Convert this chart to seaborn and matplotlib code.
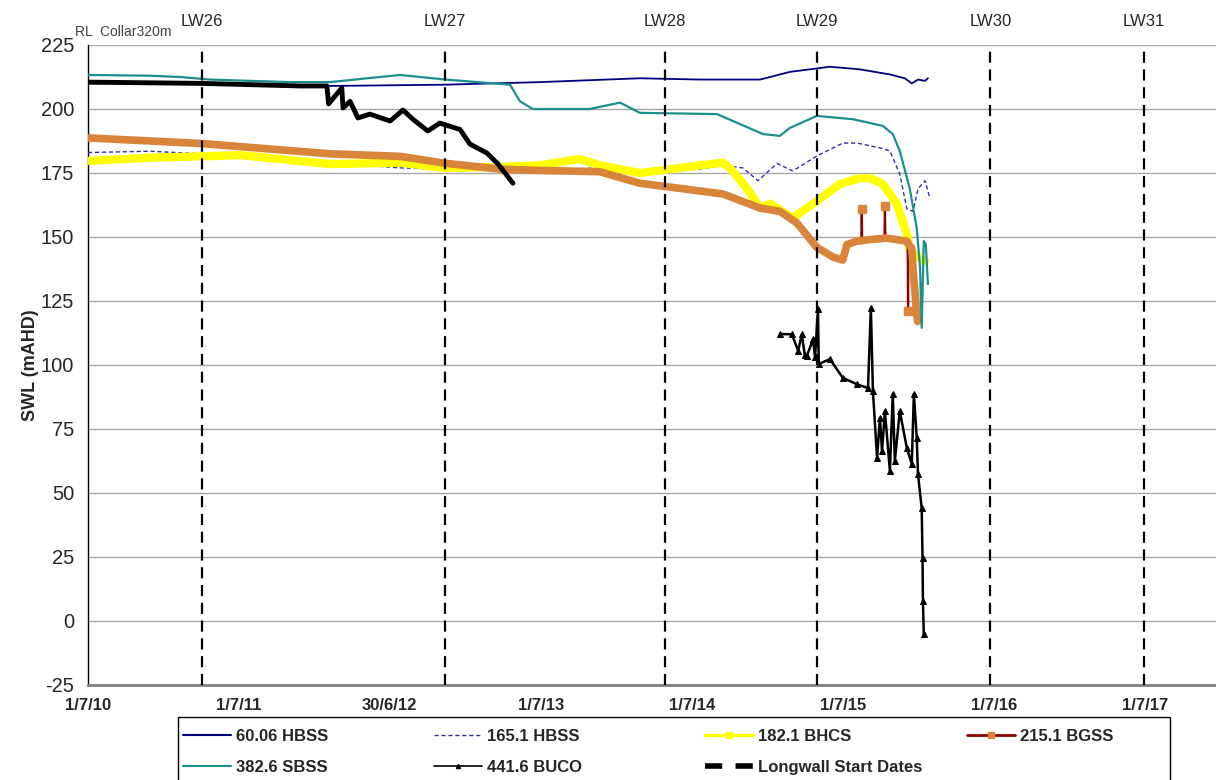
import numpy as np
import pandas as pd
import matplotlib
matplotlib.use("Agg")
import matplotlib.pyplot as plt
import matplotlib.transforms as mtransforms
from matplotlib.lines import Line2D
from matplotlib.patches import Rectangle
import seaborn as sns

# ---- values ----
hbss60_dates = ["2010-07-01", "2011-03-29", "2012-02-06", "2012-11-11", "2013-06-28", "2014-02-25",
                "2014-07-20", "2014-12-13", "2015-02-23", "2015-05-31", "2015-08-11", "2015-10-23",
                "2015-11-28", "2015-12-15", "2015-12-30", "2016-01-16", "2016-01-23"]
hbss60_vals = [210, 210, 209, 209.5, 210.5, 212, 211.5, 211.5, 214.5, 216.5, 215.5, 213.5,
               212, 210, 211.5, 211, 212]

hbss165_dates = ["2010-07-01", "2010-11-28", "2011-04-03", "2011-08-21", "2012-02-06", "2012-07-25",
                 "2012-11-11", "2013-06-28", "2013-11-20", "2014-02-25", "2014-07-20", "2014-09-14",
                 "2014-11-01", "2014-12-08", "2015-01-23", "2015-03-02", "2015-04-29", "2015-07-01",
                 "2015-08-04", "2015-09-29", "2015-10-23", "2015-11-16", "2015-12-03", "2015-12-18",
                 "2015-12-30", "2016-01-16", "2016-01-23", "2016-01-28"]
hbss165_vals = [183, 183.5, 182.5, 182, 179, 177, 176.5, 176, 177, 175.5, 176.5, 178,
                177, 172, 178.7, 175.8, 181.6, 186.7, 186.7, 184.8, 183.6, 174.6, 161, 160,
                168.8, 172, 168, 165]

bhcs_dates = ["2010-07-01", "2010-11-28", "2011-04-03", "2011-07-04", "2012-02-06", "2012-07-25",
              "2012-11-11", "2013-04-17", "2013-06-28", "2013-10-03", "2013-11-20", "2014-02-25",
              "2014-04-15", "2014-07-20", "2014-09-14", "2014-10-01", "2014-11-11", "2014-12-13",
              "2015-01-06", "2015-03-02", "2015-04-29", "2015-06-24", "2015-08-11", "2015-09-05",
              "2015-10-06", "2015-11-09", "2015-12-03", "2015-12-10", "2016-01-04", "2016-01-16"]
bhcs_vals = [179.7, 181, 181.5, 182, 178.5, 179, 177, 177.5, 178, 180.5, 178, 175,
             176, 178, 179, 177, 169, 161.3, 163, 157.4, 164, 170.7, 173, 173,
             170.7, 162.9, 151, 144.5, 141.8, 140.6]

bgss_dates = ["2010-07-01", "2011-04-03", "2012-02-06", "2012-07-25", "2012-11-11", "2013-03-24",
              "2013-06-28", "2013-11-20", "2014-02-25", "2014-06-02", "2014-09-14", "2014-12-13",
              "2015-01-30", "2015-03-12", "2015-04-29", "2015-06-07", "2015-07-01", "2015-07-11",
              "2015-08-04", "2015-08-15", "2015-08-16", "2015-08-17", "2015-09-05", "2015-10-10",
              "2015-10-11", "2015-10-12", "2015-12-03", "2015-12-05", "2015-12-06", "2015-12-07",
              "2015-12-15", "2015-12-18", "2015-12-22", "2015-12-27", "2015-12-29"]
bgss_vals = [188.7, 186.5, 182.5, 181.5, 178.8, 176.5, 176, 175.5, 171, 169, 166.8, 161.3,
             160, 155.5, 146, 142.2, 141, 147, 148.4, 148.5, 161, 148.6, 149, 149.5,
             162, 149.6, 148.4, 148, 121, 147, 145.7, 137.9, 130, 119.7, 117]
bgss_spike_dates = ["2015-08-16", "2015-10-11", "2015-12-06"]

sbss_dates = ["2010-07-01", "2010-11-28", "2011-02-09", "2011-04-22", "2011-11-02", "2012-02-06",
              "2012-07-25", "2012-11-11", "2013-04-17", "2013-05-11", "2013-06-11", "2013-10-27",
              "2014-01-08", "2014-02-25", "2014-08-31", "2014-12-20", "2015-01-30", "2015-02-23",
              "2015-04-29", "2015-07-26", "2015-10-06", "2015-10-30", "2015-11-16", "2015-12-10",
              "2015-12-27", "2016-01-04", "2016-01-08", "2016-01-13", "2016-01-18", "2016-01-23"]
sbss_vals = [213.3, 213, 212.5, 211.5, 210.5, 210.5, 213.3, 211.5, 209.5, 203, 200, 200,
             202.5, 198.5, 198, 190.2, 189.5, 192.6, 197.3, 196, 193.4, 190.2, 183.6, 169,
             153.5, 137.9, 114.5, 148.4, 147, 131.6]

# BUCO logger: two recording periods with a gap between them
buco_a_dates = ["2010-07-01", "2011-04-03", "2011-11-26", "2012-01-30", "2012-02-03", "2012-03-06",
                "2012-03-09", "2012-03-26", "2012-04-14", "2012-05-13", "2012-07-01", "2012-08-01",
                "2012-08-25", "2012-09-30", "2012-10-29", "2012-12-17", "2013-01-10", "2013-02-20",
                "2013-03-19", "2013-04-24"]
buco_a_vals = [210.5, 210, 209, 209, 202, 208.2, 200.4, 203, 196.5, 198, 195.3, 199.6,
               196, 191.4, 194.5, 192, 186.3, 182.8, 178.5, 171]
buco_b_dates = ["2015-01-30", "2015-02-28", "2015-03-15", "2015-03-24", "2015-03-31", "2015-04-05",
                "2015-04-20", "2015-04-25", "2015-05-02", "2015-05-04", "2015-05-31", "2015-07-01",
                "2015-08-04", "2015-08-31", "2015-09-07", "2015-09-12", "2015-09-22", "2015-09-29",
                "2015-10-04", "2015-10-11", "2015-10-23", "2015-10-30", "2015-11-04", "2015-11-16",
                "2015-12-03", "2015-12-15", "2015-12-20", "2015-12-27", "2015-12-30", "2016-01-08",
                "2016-01-10", "2016-01-11", "2016-01-13"]
buco_b_vals = [112.1, 112, 105.5, 112, 104, 103.5, 110, 103, 121.9, 100.4, 102.3, 95,
               92.5, 91, 122.3, 89.8, 63.7, 79.3, 66.4, 82, 58.6, 88.7, 62.5, 82,
               67.6, 61.3, 88.7, 71.5, 57.4, 44, 24.6, 7.8, -5]

longwall_names = ["LW26", "LW27", "LW28", "LW29", "LW30", "LW31"]
longwall_dates = ["2011-04-03", "2012-11-11", "2014-04-26", "2015-04-29", "2016-06-22", "2017-06-29"]

tick_dates = ["2010-07-01", "2011-07-01", "2012-06-30", "2013-07-01", "2014-07-01",
              "2015-07-01", "2016-07-01", "2017-07-01"]
tick_labels = ["1/7/10", "1/7/11", "30/6/12", "1/7/13", "1/7/14", "1/7/15", "1/7/16", "1/7/17"]
y_ticks = list(range(-25, 226, 25))

legend_labels = ["60.06 HBSS", "165.1 HBSS", "182.1 BHCS", "215.1 BGSS",
                 "382.6 SBSS", "441.6 BUCO", "Longwall Start Dates"]

C_NAVY = "#000080"
C_DASH = "#2E2EA8"
C_YELLOW = "#FFFF00"
C_ORANGE = "#D9843B"
C_DARKRED = "#8B0000"
C_TEAL = "#1A8F8F"

sns.set_style("white")
plt.rcParams["font.family"] = ["Liberation Sans", "DejaVu Sans"]

fig = plt.figure(figsize=(12.16, 7.8), dpi=100)
ax = fig.add_axes([88 / 1216, 1 - 685 / 780, 1 - 88 / 1216, 640 / 780])

d = pd.to_datetime

common = dict(ax=ax, estimator=None, sort=False, legend=False)
sns.lineplot(x=d(hbss60_dates), y=hbss60_vals, color=C_NAVY, lw=1.3, zorder=3, **common)
sns.lineplot(x=d(hbss165_dates), y=hbss165_vals, color=C_DASH, lw=1.0,
             linestyle=(0, (3, 2)), zorder=3, **common)
sns.lineplot(x=d(bhcs_dates), y=bhcs_vals, color=C_YELLOW, lw=6, zorder=3, **common)

# BGSS: thin dark-red trace (spikes visible) under a thick orange band of markers
sns.lineplot(x=d(bgss_dates), y=bgss_vals, color=C_DARKRED, lw=1.6, zorder=3, **common)
bgss = pd.DataFrame({"date": d(bgss_dates), "val": bgss_vals})
is_spike = bgss["date"].isin(d(bgss_spike_dates))
sns.lineplot(data=bgss[~is_spike], x="date", y="val", color=C_ORANGE, lw=5.5,
             zorder=3.1, **common)
ax.plot(bgss.loc[is_spike, "date"], bgss.loc[is_spike, "val"], ls="none", marker="s",
        ms=6, color=C_ORANGE, zorder=3.2)

sns.lineplot(x=d(sbss_dates), y=sbss_vals, color=C_TEAL, lw=1.6, zorder=3.3, **common)

sns.lineplot(x=d(buco_a_dates), y=buco_a_vals, color="black", lw=3.5, zorder=3.4, **common)
sns.lineplot(x=d(buco_b_dates), y=buco_b_vals, color="black", lw=1.8, marker="^", ms=4,
             mec="black", mfc="black", zorder=3.4, **common)

# longwall start dates
trans = mtransforms.blended_transform_factory(ax.transData, ax.transAxes)
for name, dt in zip(longwall_names, d(longwall_dates)):
    ax.axvline(dt, color="black", lw=1.6, linestyle=(0, (5, 3)), zorder=5)
    ax.text(dt, 1.036, name, transform=trans, ha="center", va="center", fontsize=12)

ax.set_xlim(d("2010-07-01"), d("2017-12-20"))
ax.set_ylim(-25, 225)
ax.set_xticks(d(tick_dates))
ax.set_xticklabels(tick_labels, fontsize=12, fontweight="bold")
ax.set_yticks(y_ticks)
ax.set_yticklabels([str(v) for v in y_ticks], fontsize=14.5)
ax.tick_params(axis="both", direction="out", length=5, width=1, color="black")
ax.tick_params(axis="x", pad=4)
ax.tick_params(axis="y", pad=5)
ax.yaxis.grid(True, color="#A6A6A6", lw=1)
ax.xaxis.grid(False)
ax.set_axisbelow(True)
for s in ["top", "right"]:
    ax.spines[s].set_visible(False)
ax.spines["left"].set_color("black")
ax.spines["left"].set_linewidth(1)
ax.spines["bottom"].set_color("#7F7F7F")
ax.spines["bottom"].set_linewidth(2)
ax.set_xlabel("")
ax.set_ylabel("SWL (mAHD)", fontsize=13, fontweight="bold")
ax.yaxis.set_label_coords(-0.043, 0.5)

fig.text(75 / 1216, 1 - 36 / 780, "RL  Collar320m", fontsize=10, color="#404040",
         va="baseline", ha="left")

# legend: boxed, four evenly spaced columns
handles = [
    Line2D([], [], color=C_NAVY, lw=1.5),
    Line2D([], [], color=C_DASH, lw=1.0, linestyle=(0, (3, 2))),
    Line2D([], [], color=C_YELLOW, lw=2.5, marker="s", ms=4),
    Line2D([], [], color=C_DARKRED, lw=2, marker="s", ms=5, mfc=C_ORANGE, mec=C_ORANGE),
    Line2D([], [], color=C_TEAL, lw=1.5),
    Line2D([], [], color="black", lw=1.2, marker="^", ms=3),
    Line2D([], [], color="black", lw=4, linestyle=(0, (3.1, 2.4))),
]
columns = [[0, 4], [1, 5], [2, 6], [3]]
col_x = [183, 434, 705, 967]
for idx, x in zip(columns, col_x):
    fig.legend([handles[i] for i in idx], [legend_labels[i] for i in idx],
               loc="upper left", bbox_to_anchor=(x / 1216, 1 - 729 / 780),
               frameon=False, handlelength=2.9, handletextpad=0.3, labelspacing=0.95,
               borderpad=0, borderaxespad=0, prop={"weight": "bold", "size": 12})
fig.patches.append(Rectangle((178 / 1216, -0.05), (1170 - 178) / 1216, 0.05 + 1 - 717 / 780,
                             transform=fig.transFigure, fill=False, edgecolor="black", lw=1))

fig.savefig("out.png", dpi=100)
